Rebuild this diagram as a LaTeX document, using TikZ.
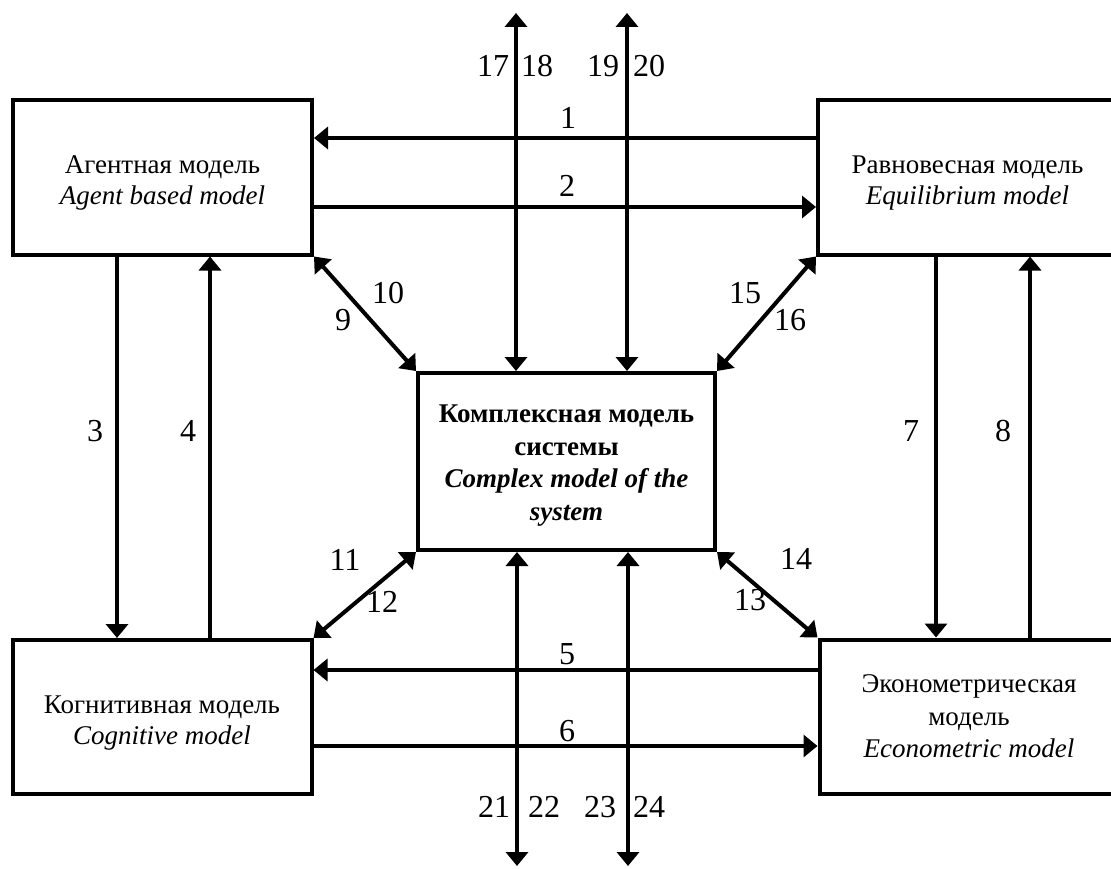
\documentclass[tikz,border=0pt]{standalone}
\usepackage{fontspec}
\setmainfont{Liberation Serif}
\usetikzlibrary{arrows.meta}
\newcommand{\dn}[1]{\rule{0pt}{#1pt}}
\begin{document}
\begin{tikzpicture}[x=1pt,y=-1pt,
  box/.style={draw,line width=4pt,align=center,inner sep=0pt,
    font=\fontsize{27}{31}\selectfont,minimum width=299pt,minimum height=154pt},
  tbox/.style={box,font=\fontsize{27}{32.5}\selectfont},
  cbox/.style={tbox,minimum width=297pt,minimum height=177pt},
  arr/.style={line width=4pt,-{Triangle[length=14pt,width=22pt]}},
  darr/.style={line width=4pt,{Triangle[length=14pt,width=22pt]}-{Triangle[length=14pt,width=22pt]}},
  lab/.style={font=\fontsize{32}{32}\selectfont,inner sep=0pt}]
\clip (0,0) rectangle (1111,869);
\fill[white] (0,0) rectangle (1111,869);

% boxes
\node[box] (agent) at (162.5,177.5) {\dn{29}Агентная модель\\\textit{Agent based model}};
\node[box] (eq) at (967.5,177.5) {\dn{29}Равновесная модель\\\textit{Equilibrium model}};
\node[box] (cog) at (162,717) {\dn{29}Когнитивная модель\\\textit{Cognitive model}};
\node[tbox] (eco) at (969,716.5) {Эконометрическая\\модель\\\textit{Econometric model}};
\node[cbox] (cen) at (566.5,461.5) {\dn{26}\textbf{Комплексная модель}\\\textbf{системы}\\\textbf{\textit{Complex model of the}}\\\textbf{\textit{system}}};

% free ends
\coordinate (t1) at (516,13);
\coordinate (t2) at (627,13);
\coordinate (b1) at (517,866);
\coordinate (b2) at (628,866);

% horizontal
\draw[arr] (eq.west |- 0,138) -- (agent.east |- 0,138);
\draw[arr] (agent.east |- 0,207) -- (eq.west |- 0,207);
\draw[arr] (eco.west |- 0,670) -- (cog.east |- 0,670);
\draw[arr] (cog.east |- 0,746) -- (eco.west |- 0,746);
% vertical
\draw[arr] (agent.south -| 117,0) -- (cog.north -| 117,0);
\draw[arr] (cog.north -| 210,0) -- (agent.south -| 210,0);
\draw[arr] (eq.south -| 936,0) -- (eco.north -| 936,0);
\draw[arr] (eco.north -| 1030,0) -- (eq.south -| 1030,0);
% diagonals
\draw[darr] (agent.south east) -- (cen.north west);
\draw[darr] (eq.south west) -- (cen.north east);
\draw[darr] (cen.south west) -- (cog.north east);
\draw[darr] (cen.south east) -- (eco.north west);
% top / bottom
\draw[darr] (cen.north -| t1) -- (t1);
\draw[darr] (cen.north -| t2) -- (t2);
\draw[darr] (cen.south -| b1) -- (b1);
\draw[darr] (cen.south -| b2) -- (b2);

% labels
\node[lab] (l1) at (568,118) {1};
\node[lab] (l2) at (567,186) {2};
\node[lab] (l3) at (95,431) {3};
\node[lab] (l4) at (188,431) {4};
\node[lab] (l5) at (567,654) {5};
\node[lab] (l6) at (567,731) {6};
\node[lab] (l7) at (911,431) {7};
\node[lab] (l8) at (1003,431) {8};
\node[lab] (l9) at (343,320) {9};
\node[lab] (l10) at (388,293) {10};
\node[lab] (l11) at (345,560) {11};
\node[lab] (l12) at (382,602) {12};
\node[lab] (l13) at (750,600) {13};
\node[lab] (l14) at (796,559) {14};
\node[lab] (l15) at (745,293) {15};
\node[lab] (l16) at (790,320) {16};
\node[lab] (l17) at (493,66) {17};
\node[lab] (l18) at (537,66) {18};
\node[lab] (l19) at (603,66) {19};
\node[lab] (l20) at (649,66) {20};
\node[lab] (l21) at (494,807) {21};
\node[lab] (l22) at (544,807) {22};
\node[lab] (l23) at (600,807) {23};
\node[lab] (l24) at (649,807) {24};
\end{tikzpicture}
\end{document}
